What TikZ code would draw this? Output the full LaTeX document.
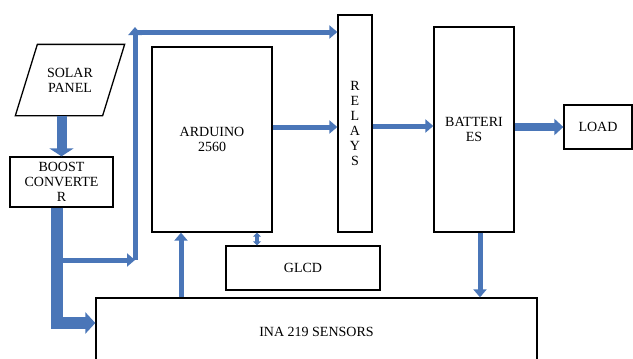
\documentclass[tikz,border=0pt]{standalone}
\usepackage{fontspec}
\setmainfont{Liberation Serif}
\usetikzlibrary{arrows.meta}
\definecolor{pipeblue}{RGB}{74,118,184}
\tikzset{
  blk/.style={draw, line width=1.3pt, inner sep=0pt, align=center,
    font=\fontsize{14}{15}\selectfont},
  pipe/.style={draw=pipeblue, line width=5pt},
  tip/.style={-{Triangle[width=13pt,length=8pt]}},
}

\begin{document}
\begin{tikzpicture}[x=1pt,y=-1pt]
\useasboundingbox (0,0) rectangle (633,359);

\node[blk, draw=none, minimum width=86pt, minimum height=70pt] (solar) at (70,80) {SOLAR\\PANEL};
\draw[line width=1.3pt, line join=miter] ([xshift=11pt]solar.north west) -- ([xshift=11pt]solar.north east)
  -- ([xshift=-11pt]solar.south east) -- ([xshift=-11pt]solar.south west) -- cycle;
\node[blk, minimum width=103pt, minimum height=50pt] (boost) at (61.5,182) {BOOST\\CONVERTE\\R};
\node[blk, minimum width=120pt, minimum height=185pt] (ardu) at (212,139.5) {ARDUINO\\2560};
\node[blk, minimum width=34pt, minimum height=217pt] (relays) at (355,123.5) {R\\E\\L\\A\\Y\\S};
\node[blk, minimum width=80pt, minimum height=205pt] (batt) at (474,129.5) {BATTERI\\ES};
\node[blk, minimum width=68pt, minimum height=44pt] (load) at (598,127) {LOAD};
\node[blk, minimum width=154pt, minimum height=44pt] (glcd) at (303,268) {GLCD};
\node[blk, minimum width=441pt, minimum height=68pt] (ina) at (316.5,332) {INA 219 SENSORS};

\coordinate (split) at (57,260);
\coordinate (bus) at (135,260);
\coordinate (top) at (135,27);
\coordinate (corner) at (135,32);

% power side
\draw[pipe, line width=10pt, -{Triangle[width=24pt,length=8pt]}] (boost.north |- solar.south) -- (boost.north);
\draw[pipe, line width=12pt, -{Triangle[width=21pt,length=10pt]}] (split |- boost.south) |- ([yshift=9pt]ina.west);
\draw[pipe, tip] (split) -- (bus);
\draw[pipe, tip] (bus) -- (top);
\draw[pipe, tip] (corner) -- (corner -| relays.west);

% control and storage
\coordinate (a1) at ([yshift=12.5pt]ardu.east);
\draw[pipe, tip] (a1) -- (a1 -| relays.west);
\coordinate (r1) at ([yshift=-2.5pt]relays.east);
\draw[pipe, tip] (r1) -- (r1 -| batt.west);
\draw[pipe, line width=8pt, -{Triangle[width=16pt,length=9pt]}] (load.west -| batt.east) -- (load.west);

% sensing
\coordinate (s1) at ([xshift=-31pt]ardu.south);
\draw[pipe, tip] (s1 |- ina.north) -- (s1);
\coordinate (b1) at ([xshift=6pt]batt.south);
\draw[pipe, tip] (b1) -- (b1 |- ina.north);
\coordinate (g1) at ([xshift=-46pt]glcd.north);
\draw[pipe, line width=4pt, {Triangle[width=8pt,length=4pt]}-{Triangle[width=8pt,length=4pt]}] (g1) -- (g1 |- ardu.south);
\end{tikzpicture}
\end{document}
